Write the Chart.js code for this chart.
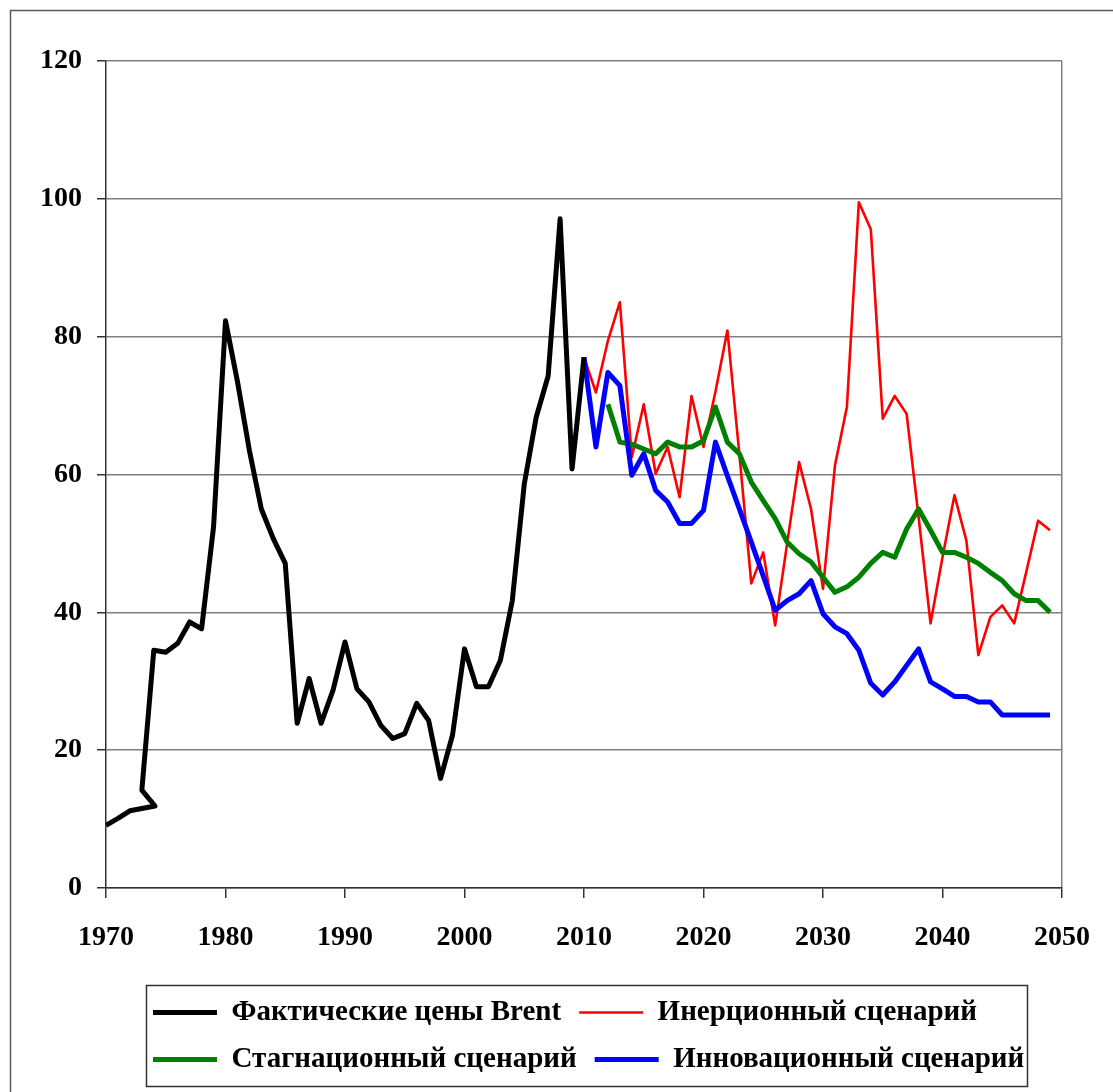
<!DOCTYPE html>
<html>
<head>
<meta charset="utf-8">
<script src="https://cdn.jsdelivr.net/npm/chart.js@4/dist/chart.umd.min.js"></script>
<style>
  html, body { margin: 0; padding: 0; background: #ffffff; }
  #wrap { width: 1113px; height: 1092px; }
</style>
</head>
<body>
<div id="wrap"><canvas id="c" width="1113" height="1092"></canvas></div>
<script>
// ---- Data ----
const seriesNames = [
  'Фактические цены Brent',
  'Инерционный сценарий',
  'Стагнационный сценарий',
  'Инновационный сценарий'
];

// Actual Brent prices (the 1973–1974 stretch zig-zags in the original)
const brentYears = [1970, 1971, 1972, 1974.1, 1973, 1974, 1975, 1976, 1977, 1978, 1979,
  1980, 1981, 1982, 1983, 1984, 1985, 1986, 1987, 1988, 1989,
  1990, 1991, 1992, 1993, 1994, 1995, 1996, 1997, 1998, 1999,
  2000, 2001, 2002, 2003, 2004, 2005, 2006, 2007, 2008, 2009, 2010];
const brentPrices = [9.1, 10.1, 11.2, 11.9, 14.2, 34.5, 34.2, 35.5, 38.6, 37.6, 52.4,
  82.3, 73.5, 63.5, 55.0, 50.7, 47.1, 23.9, 30.4, 23.9, 28.7,
  35.7, 28.9, 27.0, 23.6, 21.7, 22.4, 26.8, 24.3, 15.9, 22.2,
  34.7, 29.2, 29.2, 33.0, 41.7, 58.6, 68.3, 74.3, 97.1, 60.8, 77.0];

const scenarioYears = [2010, 2011, 2012, 2013, 2014, 2015, 2016, 2017, 2018, 2019,
  2020, 2021, 2022, 2023, 2024, 2025, 2026, 2027, 2028, 2029,
  2030, 2031, 2032, 2033, 2034, 2035, 2036, 2037, 2038, 2039,
  2040, 2041, 2042, 2043, 2044, 2045, 2046, 2047, 2048, 2049];

const inertial = [77.0, 71.9, 79.4, 85.0, 62.5, 70.2, 60.1, 64.0, 56.7, 71.4,
  64.0, 72.0, 80.9, 63.0, 44.2, 48.7, 38.1, 50.0, 61.8, 55.0,
  43.4, 61.3, 69.8, 99.5, 95.6, 68.1, 71.4, 68.8, 53.8, 38.4,
  48.0, 57.0, 50.4, 33.8, 39.3, 41.0, 38.4, 45.8, 53.3, 51.9];

const stagnation = [null, null, 70.2, 64.7, 64.4, 63.7, 63.0, 64.7, 64.0, 64.0,
  64.9, 69.8, 64.7, 63.0, 58.9, 56.2, 53.6, 50.2, 48.5, 47.3,
  45.1, 42.9, 43.7, 45.1, 47.1, 48.7, 48.0, 52.1, 55.0, 51.9,
  48.7, 48.7, 48.0, 47.1, 45.8, 44.6, 42.7, 41.7, 41.7, 40.0];

const innovative = [77.0, 64.0, 74.8, 72.9, 59.9, 63.0, 57.7, 56.0, 52.9, 52.9,
  54.8, 64.7, 59.8, 55.0, 50.2, 45.3, 40.3, 41.7, 42.7, 44.6,
  39.8, 37.9, 36.9, 34.5, 29.7, 28.0, 29.9, 32.3, 34.7, 29.9,
  28.9, 27.8, 27.8, 27.0, 27.0, 25.1, 25.1, 25.1, 25.1, 25.1];

const xTickValues = [1970, 1980, 1990, 2000, 2010, 2020, 2030, 2040, 2050];
const yTickValues = [0, 20, 40, 60, 80, 100, 120];

// ---- helpers ----
function toPoints(xs, ys) {
  const out = [];
  for (let i = 0; i < xs.length; i++) out.push({ x: xs[i], y: ys[i] });
  return out;
}

const FONT = "'Liberation Serif', 'Times New Roman', serif";

const pagePlugin = {
  id: 'pageDecor',
  afterLayout(chart) {
    // place the legend block so that its rows start where the original's do
    const lg = chart.legend;
    if (lg) {
      lg.left = 135;
      lg.right = lg.left + lg.width;
    }
  },
  beforeDraw(chart) {
    const ctx = chart.ctx;
    ctx.save();
    ctx.fillStyle = '#ffffff';
    ctx.fillRect(0, 0, chart.width, chart.height);
    ctx.strokeStyle = '#5a5a5a';
    ctx.lineWidth = 1.5;
    ctx.beginPath();
    ctx.moveTo(10.5, chart.height + 5);
    ctx.lineTo(10.5, 10.5);
    ctx.lineTo(chart.width + 5, 10.5);
    ctx.stroke();
    ctx.restore();
  },
  afterDraw(chart) {
    const lg = chart.legend;
    if (!lg || !lg.legendHitBoxes || !lg.legendHitBoxes.length) return;
    let l = Infinity, r = -Infinity, t = Infinity, b = -Infinity;
    lg.legendHitBoxes.forEach(h => {
      l = Math.min(l, h.left); r = Math.max(r, h.left + h.width);
      t = Math.min(t, h.top); b = Math.max(b, h.top + h.height);
    });
    const ctx = chart.ctx;
    ctx.save();
    ctx.strokeStyle = '#333333';
    ctx.lineWidth = 1.5;
    const x0 = Math.round(l - 7), y0 = Math.round(t - 13);
    ctx.strokeRect(x0 + 0.5, y0 + 0.5, Math.round(r + 3) - x0, Math.round(b + 12) - y0);
    ctx.restore();
  }
};

const ctx = document.getElementById('c').getContext('2d');
new Chart(ctx, {
  type: 'line',
  data: {
    datasets: [
      { label: seriesNames[0], data: toPoints(brentYears, brentPrices),
        borderColor: '#000000', backgroundColor: '#000000', borderWidth: 5, order: 0 },
      { label: seriesNames[1], data: toPoints(scenarioYears, inertial),
        borderColor: '#ff0000', backgroundColor: '#ff0000', borderWidth: 2.6, order: 3 },
      { label: seriesNames[2], data: toPoints(scenarioYears, stagnation),
        borderColor: '#008000', backgroundColor: '#008000', borderWidth: 5, order: 2 },
      { label: seriesNames[3], data: toPoints(scenarioYears, innovative),
        borderColor: '#0000ff', backgroundColor: '#0000ff', borderWidth: 5, order: 1 }
    ]
  },
  options: {
    responsive: false,
    animation: false,
    devicePixelRatio: 1,
    layout: { padding: { left: 0, right: 51, top: 61, bottom: 8 } },
    elements: {
      point: { radius: 0, hoverRadius: 0 },
      line: { tension: 0, borderJoinStyle: 'round', fill: false, spanGaps: false }
    },
    plugins: {
      tooltip: { enabled: false },
      legend: {
        position: 'bottom',
        fullSize: false,
        align: 'start',
        labels: {
          usePointStyle: true,
          pointStyle: 'line',
          pointStyleWidth: 64,
          boxHeight: 29,
          padding: 18,
          color: '#000000',
          font: { family: FONT, size: 29, weight: 'bold' },
          sort: (a, b) => a.datasetIndex - b.datasetIndex
        }
      }
    },
    scales: {
      x: {
        type: 'linear',
        min: xTickValues[0],
        max: xTickValues[xTickValues.length - 1],
        afterBuildTicks(scale) { scale.ticks = xTickValues.map(v => ({ value: v })); },
        afterFit(scale) { scale.height = 92; },
        ticks: {
          padding: 23,
          color: '#000000',
          font: { family: FONT, size: 28, weight: 'bold' },
          callback: v => String(v),
          maxRotation: 0, autoSkip: false
        },
        grid: {
          drawOnChartArea: true,
          drawTicks: true,
          tickLength: 10,
          lineWidth: 1.5,
          color: c => (c.tick && c.tick.value === 2050 ? '#7f7f7f' : 'rgba(0,0,0,0)'),
          tickColor: '#333333'
        },
        border: { display: true, color: '#333333', width: 1.5 }
      },
      y: {
        type: 'linear',
        min: yTickValues[0],
        max: yTickValues[yTickValues.length - 1],
        afterBuildTicks(scale) { scale.ticks = yTickValues.map(v => ({ value: v })); },
        afterFit(scale) { scale.width = 106; },
        ticks: {
          padding: 15,
          color: '#000000',
          font: { family: FONT, size: 28, weight: 'bold' },
          callback: v => String(v)
        },
        grid: {
          drawTicks: true,
          tickLength: 9,
          lineWidth: 1.5,
          color: '#7f7f7f',
          tickColor: '#333333'
        },
        border: { display: true, color: '#333333', width: 1.5 }
      }
    }
  },
  plugins: [pagePlugin]
});
</script>
</body>
</html>
